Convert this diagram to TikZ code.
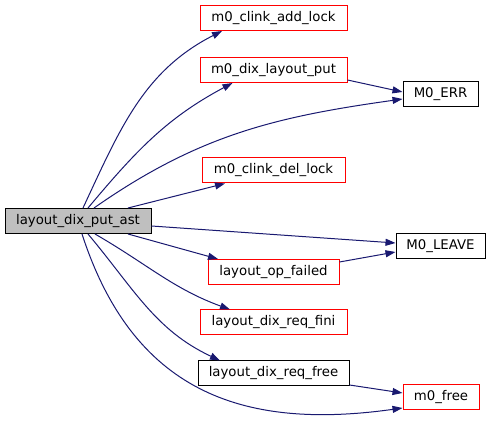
\documentclass[tikz,border=0pt]{standalone}
\usepackage{fontspec}
\setmainfont{DejaVu Sans}
\usetikzlibrary{arrows.meta}
\definecolor{edgeblue}{HTML}{191970}
\tikzset{
  fn/.style={draw=black,line width=1pt,inner sep=0pt,minimum height=25pt,
    font=\fontsize{13.3}{16}\selectfont},
  fnred/.style={fn,draw=red},
  fnmain/.style={fn,fill=black!25},
  call/.style={draw=edgeblue,line width=1pt,-{Triangle[length=10pt,width=7pt]}}
}
\begin{document}
\begin{tikzpicture}[x=1pt,y=-1pt]
    \useasboundingbox (0,0) rectangle (491,427);
    % functions
    \node[fnmain,minimum width=146pt] (put_ast) at (78,221) {layout\_dix\_put\_ast};
    \node[fnred,minimum width=147pt] (add_lock) at (273.5,18) {m0\_clink\_add\_lock};
    \node[fnred,minimum width=147pt] (layout_put) at (273.5,70) {m0\_dix\_layout\_put};
    \node[fn,minimum width=75pt] (err) at (440.5,94) {M0\_ERR};
    \node[fnred,minimum width=143pt] (del_lock) at (273.5,170.5) {m0\_clink\_del\_lock};
    \node[fn,minimum width=89pt] (leave) at (440.5,246.5) {M0\_LEAVE};
    \node[fnred,minimum width=131pt] (op_failed) at (273.5,272) {layout\_op\_failed};
    \node[fnred,minimum width=147pt] (req_fini) at (273.5,322.5) {layout\_dix\_req\_fini};
    \node[fn,minimum width=151pt] (req_free) at (273.5,373.5) {layout\_dix\_req\_free};
    \node[fnred,minimum width=76pt] (free) at (441,397.5) {m0\_free};
    % calls
    \draw[call] ([xshift=5pt]put_ast.north) to[out=65,in=207] ([xshift=-51.5pt]add_lock.south);
    \draw[call] ([xshift=10pt]put_ast.north) to[out=50,in=208] ([xshift=-41pt]layout_put.south);
    \draw[call] ([xshift=16pt]put_ast.north) to[out=35,in=188] ([yshift=-5pt]err.west);
    \draw[call] ([xshift=50pt]put_ast.north) -- ([xshift=-48.5pt]del_lock.south);
    \draw[call] ([yshift=-5pt]put_ast.east) -- ([yshift=3.5pt]leave.west);
    \draw[call] ([xshift=50pt]put_ast.south) -- ([xshift=-55.5pt]op_failed.north);
    \draw[call] ([xshift=17pt]put_ast.south) to[out=-30,in=160] ([xshift=-43.5pt]req_fini.north);
    \draw[call] ([xshift=10pt]put_ast.south) to[out=-50,in=155] ([xshift=-53.5pt]req_free.north);
    \draw[call] ([xshift=4pt]put_ast.south) to[out=-72,in=188,looseness=1.15] ([yshift=-10.5pt]free.west);
    \draw[call] ([yshift=-10pt]layout_put.east) -- ([yshift=2pt]err.west);
    \draw[call] ([yshift=10pt]op_failed.east) -- ([yshift=-5.5pt]leave.west);
    \draw[call] ([yshift=-11.5pt]req_free.east) -- ([yshift=4.5pt]free.west);
\end{tikzpicture}
\end{document}
